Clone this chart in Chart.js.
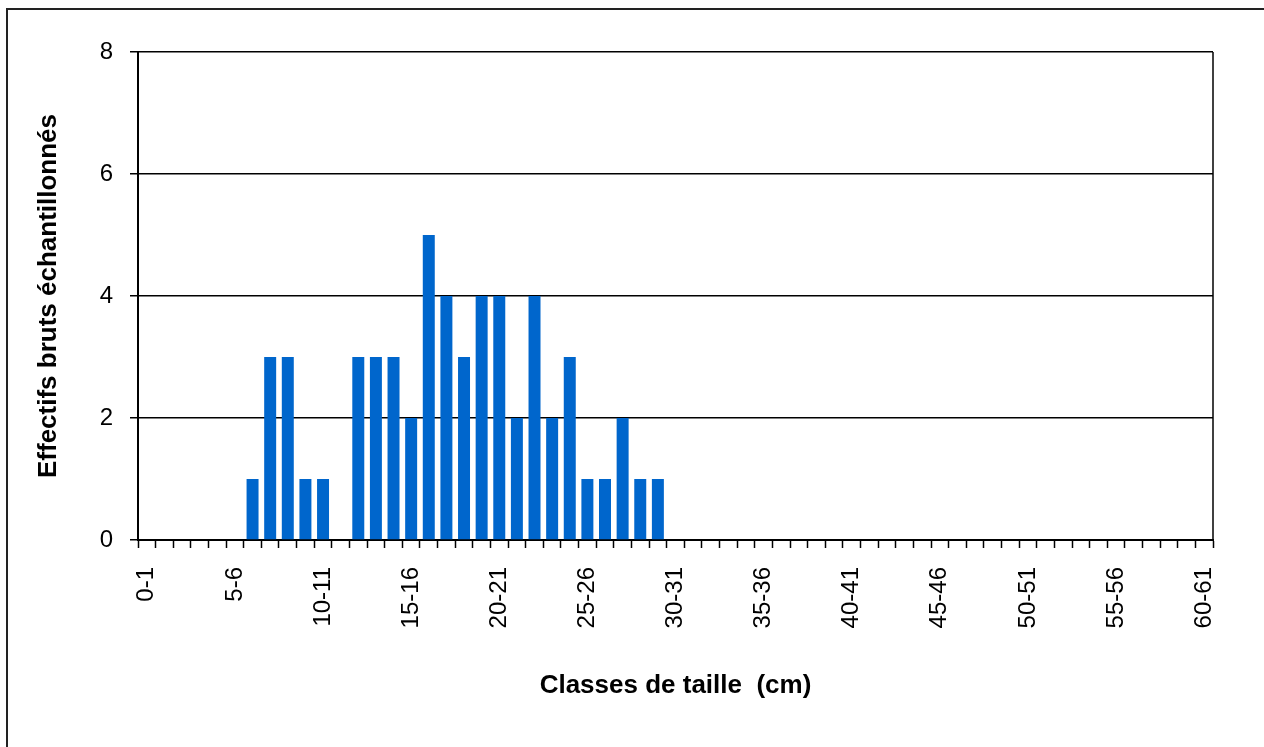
<!DOCTYPE html>
<html>
<head>
<meta charset="utf-8">
<script src="https://cdn.jsdelivr.net/npm/chart.js@4.4.1/dist/chart.umd.min.js"></script>
<style>
  html, body { margin: 0; padding: 0; background: #fff; overflow: hidden; }
  #wrap { position: absolute; left: 0; top: 0; width: 1264px; height: 747px; }
</style>
</head>
<body>
<div id="wrap"><canvas id="c" width="1264" height="747"></canvas></div>
<script>
// Size classes 0-1 ... 60-61
const categories = [
  "0-1","1-2","2-3","3-4","4-5","5-6","6-7","7-8","8-9","9-10",
  "10-11","11-12","12-13","13-14","14-15","15-16","16-17","17-18","18-19","19-20",
  "20-21","21-22","22-23","23-24","24-25","25-26","26-27","27-28","28-29","29-30",
  "30-31","31-32","32-33","33-34","34-35","35-36","36-37","37-38","38-39","39-40",
  "40-41","41-42","42-43","43-44","44-45","45-46","46-47","47-48","48-49","49-50",
  "50-51","51-52","52-53","53-54","54-55","55-56","56-57","57-58","58-59","59-60",
  "60-61"
];
const counts = [
  0,0,0,0,0,0,1,3,3,1,
  1,0,3,3,3,2,5,4,3,4,
  4,2,4,2,3,1,1,2,1,1,
  0,0,0,0,0,0,0,0,0,0,
  0,0,0,0,0,0,0,0,0,0,
  0,0,0,0,0,0,0,0,0,0,
  0
];
const yTicks = [0, 2, 4, 6, 8];
const xTitle = "Classes de taille  (cm)";
const yTitle = "Effectifs bruts échantillonnés";

const FONT = "'Liberation Sans', Arial, Helvetica, sans-serif";

const framePlugin = {
  id: 'frame',
  afterDraw(chart) {
    const ctx = chart.ctx;
    const a = chart.chartArea;
    ctx.save();
    // outer chart border (runs off the right and bottom edges)
    ctx.strokeStyle = '#222';
    ctx.lineWidth = 2;
    ctx.strokeRect(7, 9, 1400, 900);
    // right edge of the plot area
    ctx.strokeStyle = '#000';
    ctx.lineWidth = 1.5;
    ctx.beginPath();
    ctx.moveTo(a.right, a.top);
    ctx.lineTo(a.right, a.bottom);
    ctx.stroke();
    ctx.restore();
  }
};

new Chart(document.getElementById('c'), {
  type: 'bar',
  data: {
    labels: categories,
    datasets: [{
      data: counts,
      backgroundColor: '#0066CC',
      borderWidth: 0,
      barPercentage: 0.68,
      categoryPercentage: 1.0
    }]
  },
  options: {
    responsive: false,
    animation: false,
    devicePixelRatio: 1,
    layout: { padding: { top: 52, right: 51, left: 0, bottom: 0 } },
    plugins: { legend: { display: false }, tooltip: { enabled: false } },
    scales: {
      x: {
        grid: {
          offset: true,
          drawOnChartArea: false,
          drawTicks: true,
          tickLength: 8,
          tickColor: '#000',
          tickWidth: 1.5
        },
        border: { display: true, color: '#000', width: 2 },
        ticks: {
          autoSkip: false,
          maxRotation: 90,
          minRotation: 90,
          padding: 19,
          color: '#000',
          font: { family: FONT, size: 24 },
          callback: function (v, i) { return i % 5 === 0 ? categories[i] : ''; }
        },
        title: {
          display: true,
          text: xTitle,
          color: '#000',
          font: { family: FONT, size: 26, weight: 'bold' },
          padding: { top: 0, bottom: 46 }
        },
        afterFit(scale) { scale.height = 207; }
      },
      y: {
        min: yTicks[0],
        max: yTicks[yTicks.length - 1],
        afterBuildTicks(scale) { scale.ticks = yTicks.map(v => ({ value: v })); },
        grid: {
          color: '#000',
          lineWidth: 1.5,
          drawTicks: true,
          tickLength: 8,
          tickColor: '#000'
        },
        border: { display: true, color: '#000', width: 2 },
        ticks: {
          padding: 17,
          color: '#000',
          font: { family: FONT, size: 24 }
        },
        title: {
          display: true,
          text: yTitle,
          color: '#000',
          font: { family: FONT, size: 26, weight: 'bold' },
          padding: { top: 33, bottom: 0 }
        },
        afterFit(scale) { scale.width = 138; }
      }
    }
  },
  plugins: [framePlugin]
});
</script>
</body>
</html>
